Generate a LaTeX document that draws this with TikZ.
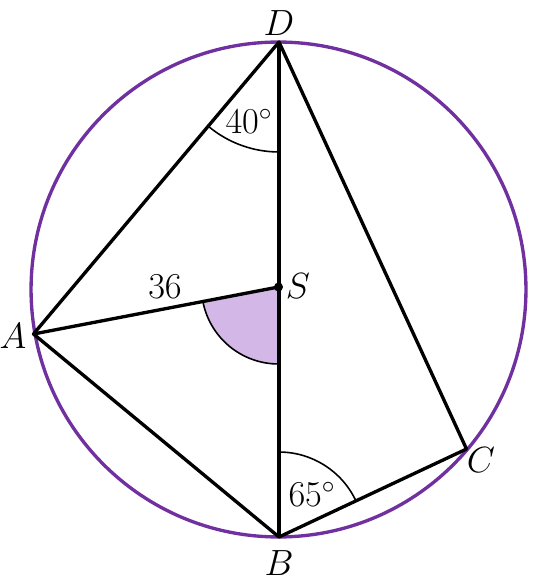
\documentclass[tikz,border=0pt]{standalone}
\usepackage{amsmath}
\usepackage{xcolor}
\usetikzlibrary{angles,calc}
\definecolor{circpurple}{RGB}{112,48,160}
\definecolor{sectorlilac}{RGB}{211,183,231}

\begin{document}
\begin{tikzpicture}[
        x=0.02cm, y=-0.02cm,
        edge/.style={line width=1.9pt, line join=round},
        ring/.style={draw=circpurple, line width=1.9pt},
        anglearc/.style={draw, line width=0.9pt},
        lbl/.style={font=\fontsize{20}{24}\selectfont, inner sep=0pt}
    ]
        \useasboundingbox (0,0) rectangle (536,587);

        % Centre and points on the circle
        \coordinate (O) at (278.5,289.5);
        \coordinate (S) at (278.5,287);
        \coordinate (D) at (279,42);
        \coordinate (B) at (279,537);
        \coordinate (A) at (33.5,334);
        \coordinate (C) at (466.5,449);

        % Shaded angle at S
        \pic[anglearc, fill=sectorlilac, angle radius=1.54cm] {angle=A--S--B};

        % Circle
        \draw[ring] (O) circle[radius=4.95cm];

        % Quadrilateral and diameter
        \draw[edge] (D) -- (A) -- (B) -- (C) -- cycle;
        \draw[edge] (D) -- (B);
        \draw[edge] (A) -- (S);
        \fill (S) circle[radius=0.09cm];

        % Angle marks
        \pic[anglearc, angle radius=2.2cm] {angle=A--D--B};
        \pic[anglearc, angle radius=1.7cm] {angle=C--B--D};

        % Labels
        \node[lbl] (lD) at (279,23) {$D$};
        \node[lbl] (lB) at (279,563) {$B$};
        \node[lbl] (lA) at (13,336) {$A$};
        \node[lbl] (lC) at (481,460) {$C$};
        \node[lbl] (lS) at (298,286) {$S$};
        \node[lbl] (l36) at (165,287) {$36$};
        \node[lbl] (l40) at (249,121) {$40^\circ$};
        \node[lbl] (l65) at (312,494) {$65^\circ$};
    \end{tikzpicture}
\end{document}
